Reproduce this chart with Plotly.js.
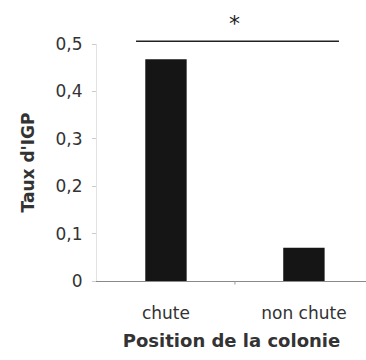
<!DOCTYPE html>
<html><head><meta charset="utf-8">
<script src="https://cdn.plot.ly/plotly-3.0.1.min.js"></script>
<style>html,body{margin:0;padding:0;background:#fff}#c{width:366px;height:360px}</style>
</head><body><div id="c"></div>
<script>
var categories = ["chute", "non chute"];
var values = [0.468, 0.07];
var yTicks = [0, 0.1, 0.2, 0.3, 0.4, 0.5];
var yTickLabels = ["0", "0,1", "0,2", "0,3", "0,4", "0,5"];
var sigLineY = 0.506;
var sigText = "*";

var fam = "DejaVu Sans, sans-serif";
var yMax = 0.5;
Plotly.newPlot("c", [{
  type: "bar", x: [0, 1], y: values,
  marker: {color: "#151515", line: {width: 0}},
  width: 0.3, hoverinfo: "none"
}], {
  width: 366, height: 360,
  margin: {l: 97, r: 0, t: 43.5, b: 78.5, pad: 0},
  paper_bgcolor: "#fff", plot_bgcolor: "#fff",
  showlegend: false,
  font: {family: fam, color: "#222"},
  xaxis: {
    range: [-0.5, 1.45], tickvals: [0, 1], ticktext: categories,
    showgrid: false, zeroline: false, showline: true, linecolor: "#8a8a8a", linewidth: 1,
    ticks: "", ticklabelstandoff: 17, tickfont: {size: 17, color: "#333", family: fam},
    title: {text: "Position de la colonie", font: {size: 18, color: "#333", family: fam, weight: "bold"}, standoff: 11},
    fixedrange: true
  },
  yaxis: {
    range: [0, yMax], tickvals: yTicks, ticktext: yTickLabels,
    showgrid: false, zeroline: false, showline: true, linecolor: "#e2e2e2", linewidth: 1,
    ticks: "outside", ticklen: 4, tickcolor: "#ccc", ticklabelstandoff: 6,
    tickfont: {size: 17, color: "#333", family: fam},
    title: {text: "Taux d'IGP", font: {size: 17, color: "#333", family: fam, weight: "bold"}, standoff: 16},
    fixedrange: true
  },
  shapes: [
    {type: "line", xref: "x", yref: "paper", x0: -0.217, x1: 1.254, y0: sigLineY / yMax, y1: sigLineY / yMax, line: {color: "#222", width: 1.5}},
    {type: "line", xref: "x", yref: "paper", x0: 0.5, x1: 0.5, y0: 0, y1: -0.015, line: {color: "#999", width: 1}}
  ],
  annotations: [
    {xref: "x", yref: "paper", x: 0.5, y: sigLineY / yMax, yanchor: "bottom", yshift: 3, text: sigText, showarrow: false, font: {size: 22, color: "#222", family: fam}}
  ]
}, {staticPlot: true});
</script></body></html>
